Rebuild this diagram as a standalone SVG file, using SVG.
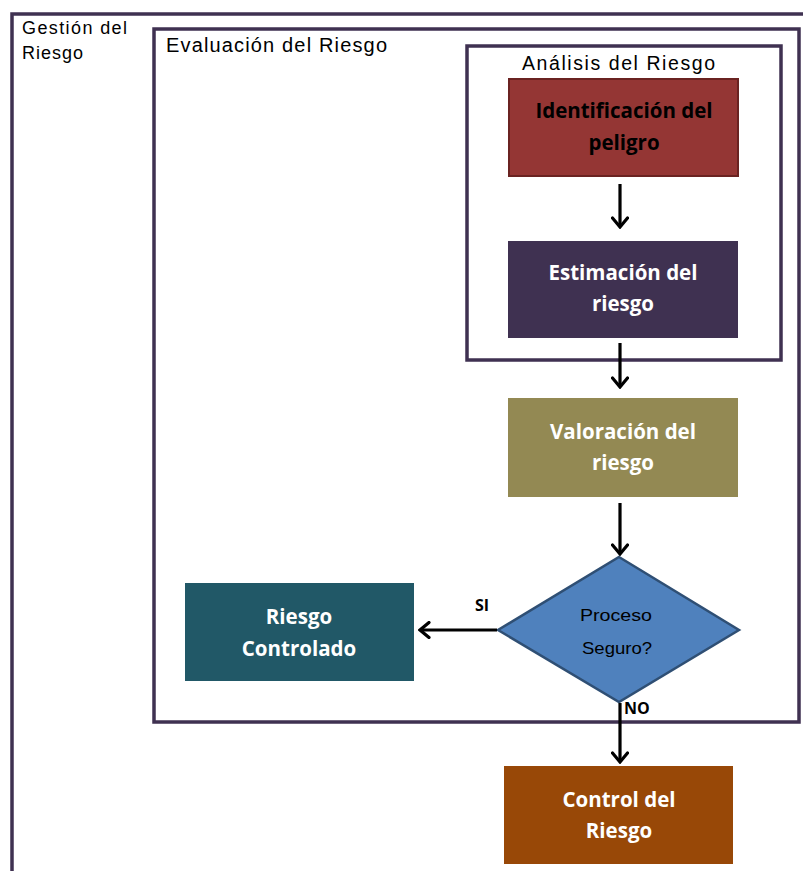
<svg xmlns="http://www.w3.org/2000/svg" width="803" height="871" viewBox="0 0 803 871">
  <defs>
    <!-- open chevron head, drawn along +x so orient="auto" follows the line -->
    <marker id="arrow" viewBox="0 0 15 18" refX="13" refY="9" markerWidth="15" markerHeight="18" markerUnits="userSpaceOnUse" orient="auto">
      <path d="M4,1.5 L13,9 L4,16.5" fill="none" stroke="#000" stroke-width="3.2" stroke-linecap="round" stroke-linejoin="miter"/>
    </marker>
  </defs>
  <style>
    .frame { fill: none; stroke: #3f3151; stroke-width: 3.5; }
    .title { font-family: "Liberation Sans", "Open Sans", sans-serif; fill: #000; }
    .label { font-family: "Open Sans", "Liberation Sans", sans-serif; font-weight: bold; font-size: 20.5px; text-anchor: middle; fill: #fff; }
    .dark { fill: #000; }
    .conn { stroke: #000; stroke-width: 3.2; fill: none; }
    .tag { font-family: "Open Sans", "Liberation Sans", sans-serif; font-weight: bold; font-size: 16px; fill: #000; }
    .qtext { font-family: "Liberation Sans", "Open Sans", sans-serif; font-size: 17px; text-anchor: middle; fill: #000; }
  </style>
  <rect width="803" height="871" fill="#fff"/>

  <!-- Outer frame: Gestión del Riesgo -->
  <g id="gestion">
    <rect class="frame" x="12" y="14" width="800" height="880"/>
    <text class="title" x="22" y="34" font-size="18" textLength="105" lengthAdjust="spacing">Gestión del</text>
    <text class="title" x="22" y="59" font-size="18" textLength="61" lengthAdjust="spacing">Riesgo</text>
  </g>

  <!-- Evaluación del Riesgo frame -->
  <g id="evaluacion">
    <rect class="frame" x="154" y="29" width="645" height="693"/>
    <text class="title" x="166" y="52" font-size="20" textLength="221" lengthAdjust="spacing">Evaluación del Riesgo</text>
  </g>

  <!-- Análisis del Riesgo frame -->
  <g id="analisis">
    <rect class="frame" x="467" y="46" width="314" height="314"/>
    <text class="title" x="522" y="70" font-size="19.5" textLength="193" lengthAdjust="spacing">Análisis del Riesgo</text>
  </g>

  <g id="identificacion">
    <rect x="509" y="79" width="229" height="97" fill="#943634" stroke="#6a2321" stroke-width="2"/>
    <text class="label dark" x="624" y="118">Identificación del</text>
    <text class="label dark" x="624" y="150">peligro</text>
  </g>

  <g id="estimacion">
    <rect x="508" y="241" width="230" height="97" fill="#3f3151"/>
    <text class="label" x="623" y="280">Estimación del</text>
    <text class="label" x="623" y="311">riesgo</text>
  </g>

  <g id="valoracion">
    <rect x="508" y="398" width="230" height="99" fill="#938953"/>
    <text class="label" x="623" y="439">Valoración del</text>
    <text class="label" x="623" y="470">riesgo</text>
  </g>

  <g id="decision">
    <polygon points="619,557 739,630 619,702 498,630" fill="#4f81bd" stroke="#2f4f74" stroke-width="2.5"/>
    <text class="qtext" x="616" y="621" textLength="72" lengthAdjust="spacingAndGlyphs">Proceso</text>
    <text class="qtext" x="617" y="654" textLength="70" lengthAdjust="spacingAndGlyphs">Seguro?</text>
  </g>

  <g id="controlado">
    <rect x="185" y="583" width="229" height="98" fill="#215867"/>
    <text class="label" x="299" y="624">Riesgo</text>
    <text class="label" x="299" y="656">Controlado</text>
  </g>

  <g id="control">
    <rect x="504" y="766" width="229" height="98" fill="#984807"/>
    <text class="label" x="619" y="807">Control del</text>
    <text class="label" x="619" y="838">Riesgo</text>
  </g>

  <!-- Connectors -->
  <g id="connectors">
    <line class="conn" x1="620" y1="184" x2="620" y2="227" marker-end="url(#arrow)"/>
    <line class="conn" x1="620" y1="343" x2="620" y2="387" marker-end="url(#arrow)"/>
    <line class="conn" x1="620" y1="503" x2="620" y2="554" marker-end="url(#arrow)"/>
    <line class="conn" x1="497" y1="630" x2="420" y2="630" marker-end="url(#arrow)"/>
    <line class="conn" x1="620" y1="703" x2="620" y2="762" marker-end="url(#arrow)"/>
    <text class="tag" x="475" y="611">SI</text>
    <text class="tag" x="624" y="714">NO</text>
  </g>
</svg>
